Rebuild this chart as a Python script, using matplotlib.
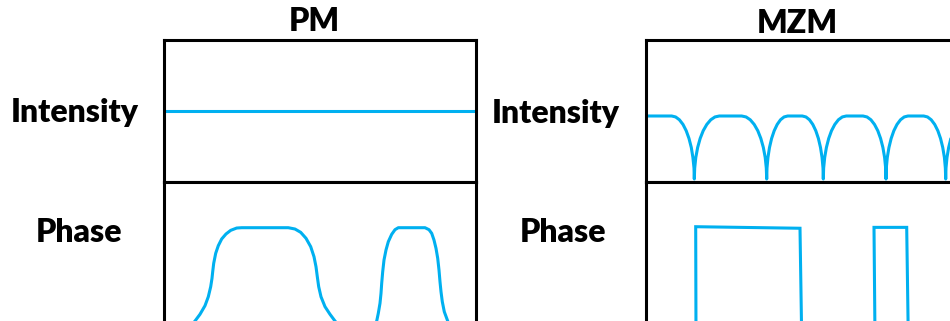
import matplotlib
matplotlib.use("Agg")
import matplotlib.pyplot as plt

# ---------------- data ----------------
panel_titles = ["PM", "MZM"]
row_labels = ["Intensity", "Phase"]

# PM intensity: constant
pm_int_t = [0, 312]
pm_int_y = [1.08, 1.08]

# PM phase: two smooth pulses
pm_phase_t = [0, 4, 12, 20, 26,
              31, 36, 41, 44.3, 46.7, 48, 48.7, 49.7, 51.7, 54.3, 57.7, 62, 66.7, 72.7, 77.7,
              124.3, 131, 136.7, 142, 146.7, 150, 152, 153.3, 154.7, 157, 161, 166, 171,
              176, 182, 190, 196,
              198, 203, 208, 211,
              212.7, 214.3, 216, 217, 217.7, 218.7, 220, 222, 224.3, 227.7, 231, 234.3,
              261, 265, 267.7, 270, 272, 273.7, 275, 276, 277, 278.3, 280.3, 283.7,
              286, 290, 296, 302, 312]
pm_phase_y = [0, 0, 0.015, 0.05, 0.10,
              0.154, 0.215, 0.293, 0.374, 0.465, 0.541, 0.601, 0.677, 0.768, 0.837, 0.898, 0.943, 0.976, 0.997, 1.0,
              1.0, 0.988, 0.958, 0.904, 0.828, 0.737, 0.646, 0.556, 0.465, 0.374, 0.284, 0.215, 0.154,
              0.10, 0.05, 0.015, 0,
              0, 0.015, 0.05, 0.10,
              0.154, 0.224, 0.315, 0.405, 0.496, 0.601, 0.707, 0.798, 0.873, 0.940, 0.982, 1.0,
              1.0, 0.982, 0.949, 0.888, 0.813, 0.723, 0.616, 0.510, 0.420, 0.329, 0.238, 0.154,
              0.10, 0.05, 0.015, 0, 0]

# MZM intensity: rounded arcs separated by cusps
mzm_int_t = [0, 25.7, 29.6, 33.4, 37.0, 40.2, 43.0, 45.3, 46.9, 48.0, 48.3,
             48.7, 49.8, 51.65, 54.15, 57.2, 60.8, 64.75, 68.95, 73.3,
             95.7, 100.05, 104.25, 108.2, 111.8, 114.85, 117.35, 119.2, 120.3, 120.7,
             121.0, 121.95, 123.5, 125.6, 128.2, 131.2, 134.5, 138.05, 141.7,
             156.3, 159.95, 163.5, 166.8, 169.8, 172.4, 174.5, 176.05, 177.0, 177.3,
             177.65, 178.7, 180.4, 182.7, 185.5, 188.8, 192.4, 196.3, 200.3,
             217.0, 221.0, 224.9, 228.5, 231.8, 234.6, 236.9, 238.6, 239.65, 240.0,
             240.3, 241.3, 242.95, 245.15, 247.85, 251.0, 254.5, 258.2, 262.0,
             277.7, 281.5, 285.2, 288.7, 291.85, 294.55, 296.75, 298.4, 299.35, 299.7,
             300.0, 301.0, 302.65, 304.85, 307.55, 310.7, 314.2]
mzm_int_y = [1, 1, 0.985, 0.940, 0.866, 0.766, 0.643, 0.5, 0.342, 0.174, 0,
             0.174, 0.342, 0.5, 0.643, 0.766, 0.866, 0.940, 0.985, 1,
             1, 0.985, 0.940, 0.866, 0.766, 0.643, 0.5, 0.342, 0.174, 0,
             0.174, 0.342, 0.5, 0.643, 0.766, 0.866, 0.940, 0.985, 1,
             1, 0.985, 0.940, 0.866, 0.766, 0.643, 0.5, 0.342, 0.174, 0,
             0.174, 0.342, 0.5, 0.643, 0.766, 0.866, 0.940, 0.985, 1,
             1, 0.985, 0.940, 0.866, 0.766, 0.643, 0.5, 0.342, 0.174, 0,
             0.174, 0.342, 0.5, 0.643, 0.766, 0.866, 0.940, 0.985, 1,
             1, 0.985, 0.940, 0.866, 0.766, 0.643, 0.5, 0.342, 0.174, 0,
             0.174, 0.342, 0.5, 0.643, 0.766, 0.866, 0.940]

# MZM phase: rectangular pulses
mzm_phase_t = [0, 50, 49.7, 154, 155.7, 229, 228, 260.7, 262.3, 312]
mzm_phase_y = [0, 0, 1.009, 0.995, 0, 0, 1.003, 1.003, 0, 0]

# ---------------- style ----------------
BLUE = "#00B0F0"
LW = 2.2
W, H = 950, 321
FONT = ["Lato", "DejaVu Sans"]

fig = plt.figure(figsize=(W / 100, H / 100), dpi=100)


def px_axes(left, top, right, bottom):
    ax = fig.add_axes([left / W, 1 - bottom / H, (right - left) / W, (bottom - top) / H])
    ax.set_xticks([])
    ax.set_yticks([])
    for s in ax.spines.values():
        s.set_linewidth(2.2)
        s.set_color("black")
    ax.set_xlim(0, 312)
    return ax


# intensity mapping: level 1 at 116 px, 0 at 179 px (box 40..182)
int_ylim = ((179 - 182) / 63, (179 - 40) / 63)
# phase mapping: level 1 at 227.7 px, 0 at 338 px (box 182..345)
ph_ylim = ((338 - 345) / 110.3, (338 - 182) / 110.3)

panels = [
    (164, pm_int_t, pm_int_y, pm_phase_t, pm_phase_y, "round"),
    (646, mzm_int_t, mzm_int_y, mzm_phase_t, mzm_phase_y, "miter"),
]
for left, it, iy, pt, py, join in panels:
    ax_i = px_axes(left, 40, left + 312, 182)
    ax_i.set_ylim(*int_ylim)
    ax_i.plot(it, iy, color=BLUE, lw=LW, solid_joinstyle="round", solid_capstyle="butt")
    ax_p = px_axes(left, 182, left + 312, 345)
    ax_p.set_ylim(*ph_ylim)
    ax_p.plot(pt, py, color=BLUE, lw=LW, solid_joinstyle=join, solid_capstyle="butt")

# ---------------- text ----------------
tkw = dict(fontsize=23, fontweight="heavy", family=FONT, ha="center", va="baseline",
           transform=fig.transFigure)
fig.text(314 / W, 1 - 31 / H, panel_titles[0], **tkw)
fig.text(797 / W, 1 - 33 / H, panel_titles[1], **tkw)
fig.text(75 / W, 1 - 122 / H, row_labels[0], **tkw)
fig.text(79 / W, 1 - 241.7 / H, row_labels[1], **tkw)
fig.text(556 / W, 1 - 123.3 / H, row_labels[0], **tkw)
fig.text(562.5 / W, 1 - 242 / H, row_labels[1], **tkw)

fig.savefig("out.png", dpi=100)
